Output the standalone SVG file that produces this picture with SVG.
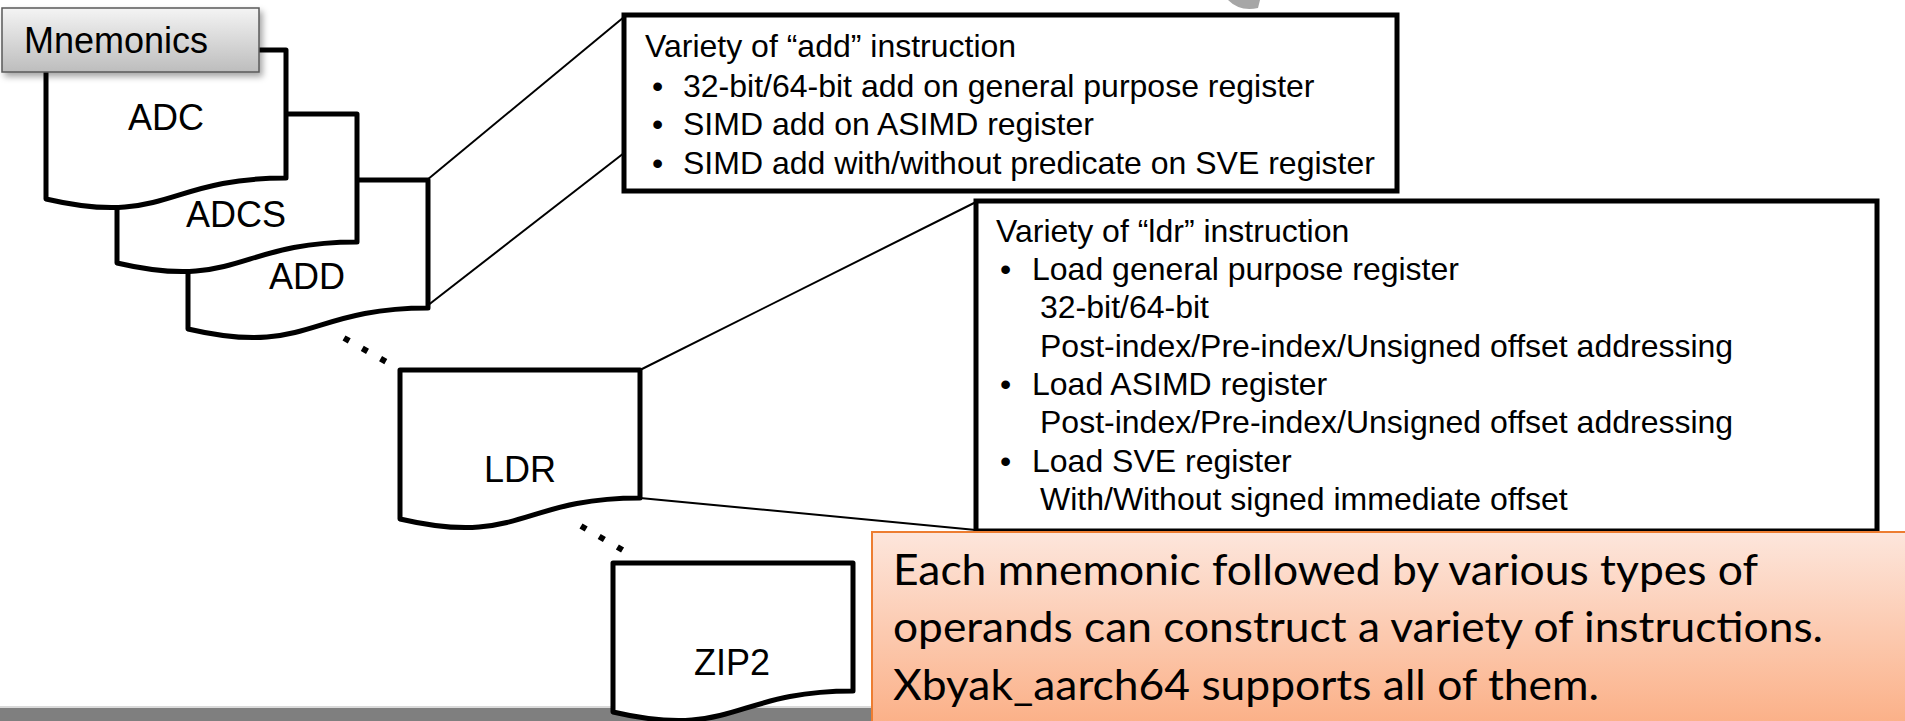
<svg xmlns="http://www.w3.org/2000/svg" width="1905" height="721" viewBox="0 0 1905 721">
  <style>
    .doc { fill: #ffffff; stroke: #000000; stroke-width: 5; stroke-linejoin: round; }
    .box { fill: #ffffff; stroke: #000000; stroke-width: 5; }
    .lbl { font-family: "Liberation Sans", Arial, sans-serif; font-size: 36px; fill: #000000; text-anchor: middle; }
    .txt { font-family: "Liberation Sans", Arial, sans-serif; font-size: 32px; fill: #000000; }
    .conn { stroke: #000000; stroke-width: 2; fill: none; }
    .dots { stroke: #000000; stroke-width: 6; fill: none; stroke-dasharray: 6 15; }
    .call { font-family: Lato, "Open Sans", sans-serif; font-size: 43px; fill: #000000; }
  </style>
  <defs>
    <path id="docshape" d="M0,0 H240 V128 C120,128 120,177 0,149 Z"/>
    <linearGradient id="gMn" x1="0" y1="0" x2="0" y2="1">
      <stop offset="0" stop-color="#F4F4F4"/>
      <stop offset="1" stop-color="#BDBDBD"/>
    </linearGradient>
    <linearGradient id="gCall" x1="0" y1="0" x2="0" y2="1">
      <stop offset="0" stop-color="#FDE6DC"/>
      <stop offset="1" stop-color="#FBAE84"/>
    </linearGradient>
    <filter id="shadow" x="-10%" y="-20%" width="130%" height="160%">
      <feDropShadow dx="3" dy="4" stdDeviation="3" flood-color="#000000" flood-opacity="0.35"/>
    </filter>
  </defs>

  <rect x="0" y="0" width="1905" height="721" fill="#ffffff"/>

  <!-- cut-off fragment at the top edge -->
  <path d="M1228,0 Q1240,12 1258,8 L1260,0 Z" fill="#A6A6A6"/>

  <!-- bottom bar -->
  <rect x="0" y="706" width="1905" height="2" fill="#D9D9D9"/>
  <rect x="0" y="708" width="1905" height="13" fill="#7F7F7F"/>

  <!-- connectors -->
  <g id="connectors">
    <line class="conn" x1="427" y1="180" x2="624" y2="17"/>
    <line class="conn" x1="427" y1="306" x2="624" y2="153"/>
    <line class="conn" x1="640" y1="370" x2="976" y2="202"/>
    <line class="conn" x1="640" y1="498" x2="976" y2="530"/>
    <line class="dots" x1="344" y1="338" x2="390" y2="364"/>
    <line class="dots" x1="581" y1="526" x2="626" y2="552"/>
  </g>

  <g id="node-add">
    <use href="#docshape" class="doc" transform="translate(188,180)"/>
    <text class="lbl" x="307" y="289">ADD</text>
  </g>
  <g id="node-adcs">
    <use href="#docshape" class="doc" transform="translate(117,114)"/>
    <text class="lbl" x="236" y="227">ADCS</text>
  </g>
  <g id="node-adc">
    <use href="#docshape" class="doc" transform="translate(46,50)"/>
    <text class="lbl" x="166" y="130">ADC</text>
  </g>
  <g id="node-ldr">
    <use href="#docshape" class="doc" transform="translate(400,370)"/>
    <text class="lbl" x="520" y="482">LDR</text>
  </g>
  <g id="node-zip2">
    <use href="#docshape" class="doc" transform="translate(613,563)"/>
    <text class="lbl" x="732" y="675">ZIP2</text>
  </g>

  <g id="node-mnemonics">
    <rect x="2" y="8" width="257" height="64" fill="url(#gMn)" stroke="#5A5A5A" stroke-width="1.5" filter="url(#shadow)"/>
    <text class="lbl" x="116" y="53">Mnemonics</text>
  </g>

  <g id="node-add-detail">
    <rect class="box" x="624" y="15" width="773" height="176"/>
    <text class="txt" x="645" y="57">Variety of “add” instruction</text>
    <text class="txt" x="652" y="97">•</text>
    <text class="txt" x="683" y="97">32-bit/64-bit add on general purpose register</text>
    <text class="txt" x="652" y="135">•</text>
    <text class="txt" x="683" y="135">SIMD add on ASIMD register</text>
    <text class="txt" x="652" y="174">•</text>
    <text class="txt" x="683" y="174">SIMD add with/without predicate on SVE register</text>
  </g>

  <g id="node-ldr-detail">
    <rect class="box" x="976" y="201" width="901" height="330"/>
    <text class="txt" x="996" y="242">Variety of “ldr” instruction</text>
    <text class="txt" x="1000" y="280">•</text>
    <text class="txt" x="1032" y="280">Load general purpose register</text>
    <text class="txt" x="1040" y="318">32-bit/64-bit</text>
    <text class="txt" x="1040" y="357">Post-index/Pre-index/Unsigned offset addressing</text>
    <text class="txt" x="1000" y="395">•</text>
    <text class="txt" x="1032" y="395">Load ASIMD register</text>
    <text class="txt" x="1040" y="433">Post-index/Pre-index/Unsigned offset addressing</text>
    <text class="txt" x="1000" y="472">•</text>
    <text class="txt" x="1032" y="472">Load SVE register</text>
    <text class="txt" x="1040" y="510">With/Without signed immediate offset</text>
  </g>

  <g id="node-callout">
    <rect x="872" y="532" width="1040" height="200" fill="url(#gCall)" stroke="#ED7D31" stroke-width="2"/>
    <text class="call" x="893" y="585" textLength="865" lengthAdjust="spacingAndGlyphs">Each mnemonic followed by various types of</text>
    <text class="call" x="893" y="642" textLength="930" lengthAdjust="spacingAndGlyphs">operands can construct a variety of instructions.</text>
    <text class="call" x="893" y="700" textLength="706" lengthAdjust="spacingAndGlyphs">Xbyak_aarch64 supports all of them.</text>
  </g>
</svg>
